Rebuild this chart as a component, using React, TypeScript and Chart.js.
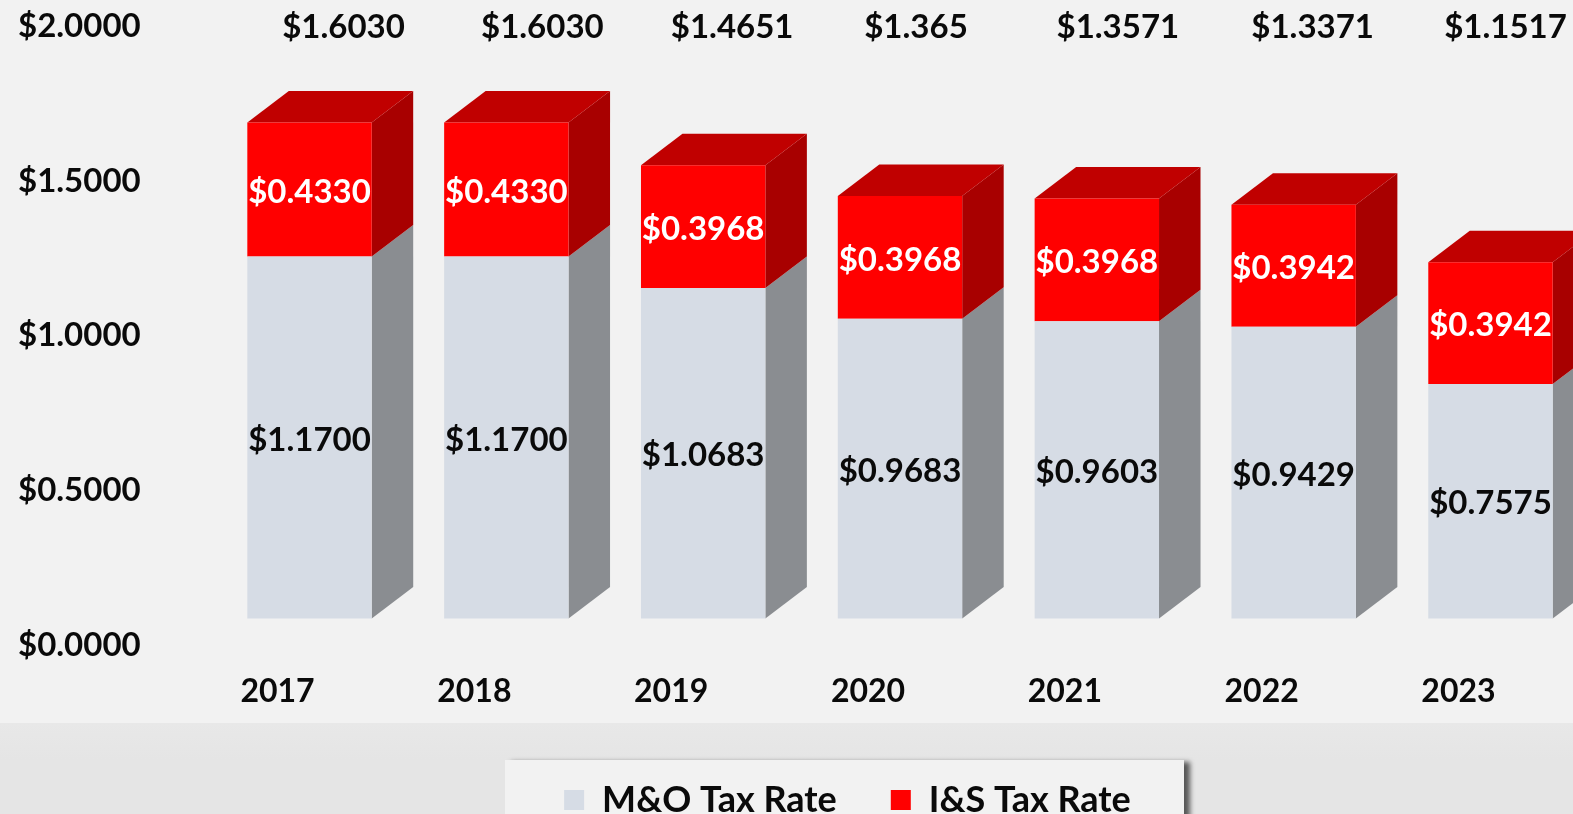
import React, { useEffect, useRef } from "react";
import { Chart, registerables } from "chart.js";

Chart.register(...registerables);

const years = ["2017", "2018", "2019", "2020", "2021", "2022", "2023"];
const moRates = [1.17, 1.17, 1.0683, 0.9683, 0.9603, 0.9429, 0.7575];
const isRates = [0.433, 0.433, 0.3968, 0.3968, 0.3968, 0.3942, 0.3942];
const totalLabels = ["$1.6030", "$1.6030", "$1.4651", "$1.365", "$1.3571", "$1.3371", "$1.1517"];

const FONT = "Lato, 'Noto Sans', sans-serif";
const CANVAS_W = 1688;
const CANVAS_H = 828;
const DEPTH_X = 41.5;
const DEPTH_Y = 31.5;
const LEGEND_SHIFT = 44;
const totalLabelShift = [34, 36, 29, 16, 21, 19, 15];
const SIDE = ["#8a8d91", "#a80000"];
const TOP = "#c00000";
const INK = "#0a0a0a";

const legendShiftPlugin = {
  id: "legendShift",
  afterLayout(chart: any) {
    chart.legend.left += LEGEND_SHIFT;
    chart.legend.right += LEGEND_SHIFT;
  },
};

const sceneryPlugin = {
  id: "scenery",
  beforeDraw(chart: any) {
    const { ctx, width, height } = chart;
    ctx.save();
    ctx.fillStyle = "#f2f2f2";
    ctx.fillRect(0, 0, width, 723);
    const g = ctx.createLinearGradient(0, 723, 0, 760);
    g.addColorStop(0, "#e8e8e8");
    g.addColorStop(1, "#e5e5e5");
    ctx.fillStyle = g;
    ctx.fillRect(0, 723, width, height - 723);
    ctx.shadowColor = "rgba(40,40,40,0.75)";
    ctx.shadowBlur = 5;
    ctx.shadowOffsetX = 6;
    ctx.shadowOffsetY = 2;
    ctx.fillStyle = "#f2f2f2";
    ctx.fillRect(505, 760, 679, 90);
    ctx.restore();
  },
};

const depthPlugin = {
  id: "depth",
  beforeDatasetsDraw(chart: any) {
    const { ctx } = chart;
    ctx.save();
    chart.data.datasets.forEach((_: any, ds: number) => {
      chart.getDatasetMeta(ds).data.forEach((bar: any) => {
        const right = bar.x + bar.width / 2;
        const left = bar.x - bar.width / 2;
        ctx.fillStyle = SIDE[ds];
        ctx.beginPath();
        ctx.moveTo(right, bar.y);
        ctx.lineTo(right + DEPTH_X, bar.y - DEPTH_Y);
        ctx.lineTo(right + DEPTH_X, bar.base - DEPTH_Y);
        ctx.lineTo(right, bar.base);
        ctx.closePath();
        ctx.fill();
        if (ds === chart.data.datasets.length - 1) {
          ctx.fillStyle = TOP;
          ctx.beginPath();
          ctx.moveTo(left, bar.y);
          ctx.lineTo(left + DEPTH_X, bar.y - DEPTH_Y);
          ctx.lineTo(right + DEPTH_X, bar.y - DEPTH_Y);
          ctx.lineTo(right, bar.y);
          ctx.closePath();
          ctx.fill();
        }
      });
    });
    ctx.restore();
  },
};

const labelPlugin = {
  id: "barLabels",
  afterDatasetsDraw(chart: any) {
    const { ctx, scales } = chart;
    ctx.save();
    ctx.font = `bold 33px ${FONT}`;
    ctx.textAlign = "center";
    ctx.textBaseline = "middle";
    chart.data.datasets.forEach((ds: any, d: number) => {
      ctx.fillStyle = d === 0 ? INK : "#ffffff";
      chart.getDatasetMeta(d).data.forEach((bar: any, i: number) => {
        const c = bar.getCenterPoint();
        ctx.fillText(`$${ds.data[i].toFixed(4)}`, c.x, c.y + 2.5);
      });
    });
    ctx.fillStyle = INK;
    totalLabels.forEach((t, i) => {
      const x = scales.x.getPixelForValue(i) + totalLabelShift[i];
      ctx.fillText(t, x, scales.y.getPixelForValue(2) + 1);
    });
    ctx.restore();
  },
};

export default function App() {
  const ref = useRef<HTMLCanvasElement>(null);
  useEffect(() => {
    const chart = new Chart(ref.current as HTMLCanvasElement, {
      type: "bar",
      data: {
        labels: years,
        datasets: [
          { label: "M&O Tax Rate", data: moRates, backgroundColor: "#d6dce5", yAxisID: "y2" },
          { label: "I&S Tax Rate", data: isRates, backgroundColor: "#ff0000", yAxisID: "y2" },
        ],
      },
      options: {
        animation: false,
        responsive: false,
        layout: { padding: { left: 18, top: 26.5, right: CANVAS_W - 1588.9, bottom: 0 } },
        datasets: { bar: { barPercentage: 0.632, categoryPercentage: 1 } },
        plugins: {
          tooltip: { enabled: false },
          legend: {
            position: "bottom",
            labels: {
              font: { family: FONT, size: 36, weight: "bold" },
              color: INK,
              boxWidth: 20,
              boxHeight: 20,
              padding: 54,
            },
          },
        },
        scales: {
          x: {
            stacked: true,
            grid: { display: false },
            border: { display: false },
            afterFit(s: any) {
              s.height = 82.8;
            },
            ticks: {
              color: INK,
              font: { family: FONT, size: 32, weight: "bold" },
              padding: 19,
              labelOffset: -32,
              maxRotation: 0,
              autoSkip: false,
            },
          },
          y: {
            position: "left",
            min: 0,
            max: 2,
            grid: { display: false },
            border: { display: false },
            afterFit(s: any) {
              s.width = 193.1;
            },
            ticks: {
              stepSize: 0.5,
              crossAlign: "far",
              color: INK,
              font: { family: FONT, size: 33, weight: "bold" },
              callback: (v: any) => `$${Number(v).toFixed(4)}`,
            },
          },
          y2: {
            display: false,
            stacked: true,
            min: -0.0866,
            max: 1.9134,
          },
        },
      } as any,
      plugins: [legendShiftPlugin, sceneryPlugin, depthPlugin, labelPlugin],
    });
    return () => chart.destroy();
  }, []);
  return (
    <div style={{ position: "fixed", left: 0, top: 0, width: 1573, height: 814, overflow: "hidden" }}>
      <canvas ref={ref} width={CANVAS_W} height={CANVAS_H} style={{ display: "block" }} />
    </div>
  );
}
